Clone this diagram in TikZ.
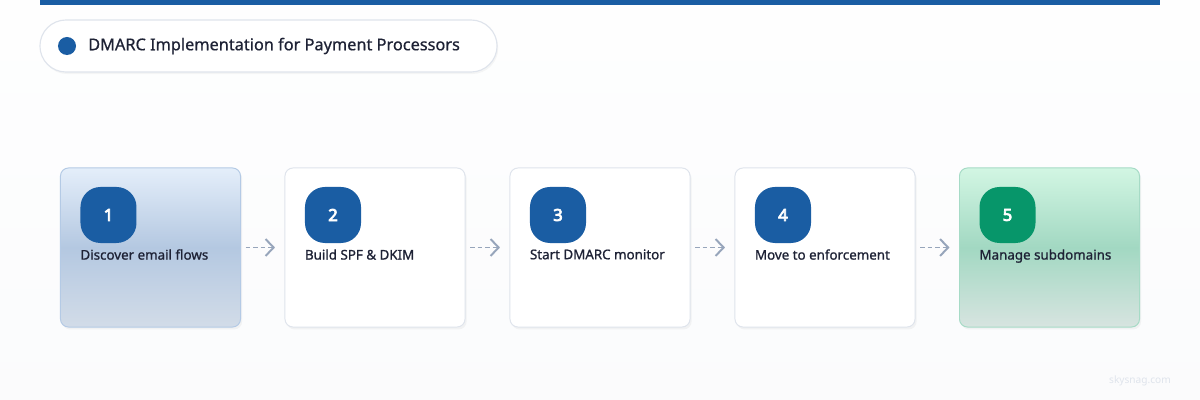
\documentclass[tikz,border=0pt]{standalone}
\usepackage{fontspec}
\setmainfont{Noto Sans}
\newfontfamily\numfont{Noto Sans}[FakeBold=4.5]
\newfontfamily\labelfont{Noto Sans}[FakeBold=1]
\newfontfamily\titlefont{Noto Sans}[FakeBold=0.7]
\usetikzlibrary{arrows.meta,positioning,shadows}

\definecolor{brandblue}{HTML}{1A5DA3}
\definecolor{brandgreen}{HTML}{07966A}
\definecolor{ink}{HTML}{1E2235}
\definecolor{cardline}{HTML}{DFE4EC}
\definecolor{arrowgray}{HTML}{97A5BB}
\definecolor{bluetop}{HTML}{E4EEFA}
\definecolor{bluemid}{HTML}{B4C8E1}
\definecolor{bluebot}{HTML}{D2DCE8}
\definecolor{blueline}{HTML}{B4CAE5}
\definecolor{greentop}{HTML}{D2F6E3}
\definecolor{greenmid}{HTML}{A2D8C2}
\definecolor{greenbot}{HTML}{D7E4E0}
\definecolor{greenline}{HTML}{A6DBC6}

\begin{document}
\begin{tikzpicture}[x=0.025cm,y=-0.025cm,>=Latex,
  card/.style={draw=cardline,line width=0.7pt,rounded corners=0.2cm,minimum width=4.5cm,minimum height=3.975cm,outer sep=0pt,fill=white,drop shadow={shadow xshift=0.04cm,shadow yshift=-0.06cm,opacity=0.08}},
  badge/.style={fill=brandblue,rounded corners=0.5cm,minimum size=1.4cm,inner sep=0pt,outer sep=0pt,text=white,font=\fontsize{11.8}{13}\numfont},
  steplabel/.style={inner sep=0pt,outer sep=0pt,text=ink,font=\fontsize{9.5}{11}\labelfont},
  flowarrow/.style={draw=arrowgray,line width=1.2pt,dash pattern=on 3.2pt off 2.2pt,shorten <=0.125cm,shorten >=0.25cm,-{Straight Barb[length=0.2cm,width=0.42cm,line width=1.4pt]}}]
\useasboundingbox (0,0) rectangle (1200,400);
\shade[top color=white!97!cardline,bottom color=white!86!cardline] (0,0) rectangle (1200,400);
\fill[brandblue] (40,0) rectangle (1160,5);

% title
\node[draw=cardline,line width=0.8pt,fill=white,rounded corners=0.65cm,minimum width=11.425cm,minimum height=1.3cm,outer sep=0pt,drop shadow={shadow xshift=0.03cm,shadow yshift=-0.05cm,opacity=0.07}] (title) at (268.5,46) {};
\node[circle,fill=brandblue,minimum size=0.45cm,inner sep=0pt] (dot) at (67,46) {};
\node[anchor=west,inner sep=0pt,text=ink,font=\fontsize{11.6}{13}\titlefont] (titletext) at (88,46) {DMARC Implementation for Payment Processors};

% steps
\node[card,draw=blueline,top color=bluetop,bottom color=bluebot,middle color=bluemid] (c1) at (150.5,247.5) {};
\node[card] (c2) at (375,247.5) {};
\node[card] (c3) at (600,247.5) {};
\node[card] (c4) at (825,247.5) {};
\node[card,draw=greenline,top color=greentop,bottom color=greenbot,middle color=greenmid] (c5) at (1049.5,247.5) {};

\node[badge,below right=0.475cm and 0.5cm of c1.north west] (b1) {1};
\node[badge,below right=0.475cm and 0.5cm of c2.north west] (b2) {2};
\node[badge,below right=0.475cm and 0.5cm of c3.north west] (b3) {3};
\node[badge,below right=0.475cm and 0.5cm of c4.north west] (b4) {4};
\node[badge,fill=brandgreen,below right=0.475cm and 0.5cm of c5.north west] (b5) {5};

\node[steplabel,below right=0.16cm and 0cm of b1.south west] (l1) {Discover email flows};
\node[steplabel,below right=0.16cm and 0cm of b2.south west] (l2) {Build SPF \& DKIM};
\node[steplabel,below right=0.16cm and 0cm of b3.south west] (l3) {Start DMARC monitor};
\node[steplabel,below right=0.16cm and 0cm of b4.south west] (l4) {Move to enforcement};
\node[steplabel,below right=0.16cm and 0cm of b5.south west] (l5) {Manage subdomains};

\draw[flowarrow] (c1) -- (c2);
\draw[flowarrow] (c2) -- (c3);
\draw[flowarrow] (c3) -- (c4);
\draw[flowarrow] (c4) -- (c5);

\node[text=cardline,font=\fontsize{7.2}{9}\selectfont] (mark) at (1140,381) {skysnag.com};
\end{tikzpicture}
\end{document}
